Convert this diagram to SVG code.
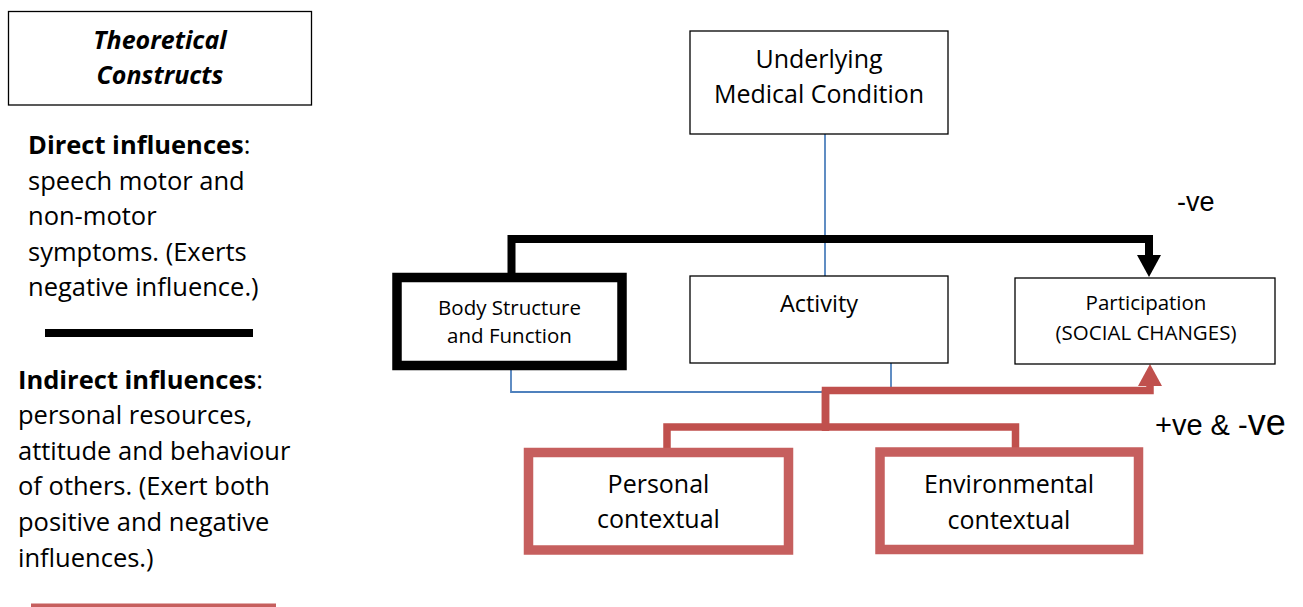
<svg xmlns="http://www.w3.org/2000/svg" width="1303" height="607" viewBox="0 0 1303 607">
<style>
  .t{font-family:"Open Sans","Liberation Sans",sans-serif;fill:#000;}
  .c{text-anchor:middle;}
  .box{fill:#fff;stroke:#000;stroke-width:1.3;}
  .thick{fill:#fff;stroke:#000;stroke-width:9.5;}
  .red{fill:#fff;stroke:#C65F5E;stroke-width:9.5;}
  .blue{fill:none;stroke:#4F81BD;stroke-width:1.8;}
  .blk{fill:none;stroke:#000;stroke-width:8;}
  .rc{fill:none;stroke:#C0504D;stroke-width:7.5;}
  .a{font-family:"Liberation Sans",Arial,sans-serif;fill:#000;}
</style>
<defs>
  <marker id="ab" markerUnits="userSpaceOnUse" viewBox="0 0 22 24" refX="0" refY="12" markerWidth="22" markerHeight="24" orient="auto">
    <path d="M0,0 L22,12 L0,24 z" fill="#000"/>
  </marker>
  <marker id="ar" markerUnits="userSpaceOnUse" viewBox="0 0 22 24" refX="0" refY="12" markerWidth="22" markerHeight="24" orient="auto">
    <path d="M0,0 L22,12 L0,24 z" fill="#C0504D"/>
  </marker>
</defs>
<rect width="1303" height="607" fill="#fff"/>

<g id="legend">
  <rect x="8.5" y="11.5" width="303" height="93.5" class="box"/>
  <text class="t c" x="160" y="49" font-size="25" font-weight="bold" font-style="italic">Theoretical</text>
  <text class="t c" x="160" y="84" font-size="25" font-weight="bold" font-style="italic">Constructs</text>
  <text class="t" font-size="25.5" x="28">
    <tspan x="28" y="154"><tspan font-weight="bold">Direct influences</tspan>:</tspan>
    <tspan x="28" y="190">speech motor and</tspan>
    <tspan x="28" y="225">non-motor</tspan>
    <tspan x="28" y="261">symptoms. (Exerts</tspan>
    <tspan x="28" y="296">negative influence.)</tspan>
  </text>
  <line x1="45" y1="333" x2="253" y2="333" stroke="#000" stroke-width="8"/>
  <text class="t" font-size="25.5" x="18">
    <tspan x="18" y="389"><tspan font-weight="bold">Indirect influences</tspan>:</tspan>
    <tspan x="18" y="424">personal resources,</tspan>
    <tspan x="18" y="460">attitude and behaviour</tspan>
    <tspan x="18" y="495">of others. (Exert both</tspan>
    <tspan x="18" y="531">positive and negative</tspan>
    <tspan x="18" y="567">influences.)</tspan>
  </text>
  <line x1="31" y1="605.5" x2="276" y2="605.5" stroke="#C65F5E" stroke-width="4"/>
</g>

<g id="connectors">
  <path class="blue" d="M825,134 V276"/>
  <path class="blue" d="M511,370 V392 H828"/>
  <path class="blue" d="M891,363 V388"/>
  <path class="blk" d="M511.5,274 V239 H1149 V255" marker-end="url(#ab)"/>
  <path class="rc" d="M825.5,431 V390.5 H1150 V386" marker-end="url(#ar)"/>
  <path class="rc" d="M667,449 V427 H1015.5 V449"/>
  <path class="rc" d="M825.5,390 V427"/>
</g>

<g id="underlying">
  <rect x="690" y="31" width="258" height="103" class="box"/>
  <text class="t c" x="819" y="68" font-size="25">Underlying</text>
  <text class="t c" x="819" y="103" font-size="25">Medical Condition</text>
</g>

<g id="body">
  <rect x="397" y="277.5" width="225" height="88" class="thick"/>
  <text class="t c" x="509.5" y="315" font-size="20.5">Body Structure</text>
  <text class="t c" x="509.5" y="343" font-size="20.5">and Function</text>
</g>

<g id="activity">
  <rect x="690" y="276" width="258" height="87" class="box"/>
  <text class="t c" x="819" y="312" font-size="23.5">Activity</text>
</g>

<g id="participation">
  <rect x="1015" y="278" width="260" height="86" class="box"/>
  <text class="t c" x="1146" y="310" font-size="20.5">Participation</text>
  <text class="t c" x="1146" y="340" font-size="20.5">(SOCIAL CHANGES)</text>
</g>

<g id="personal">
  <rect x="528.5" y="452.5" width="260" height="97.5" class="red"/>
  <text class="t c" x="658.5" y="493" font-size="25">Personal</text>
  <text class="t c" x="658.5" y="528" font-size="25">contextual</text>
</g>

<g id="environmental">
  <rect x="880" y="452" width="258.5" height="97.5" class="red"/>
  <text class="t c" x="1009" y="493" font-size="25">Environmental</text>
  <text class="t c" x="1009" y="529" font-size="25">contextual</text>
</g>

<g id="labels">
  <text class="a" x="1177" y="211" font-size="27">-ve</text>
  <text class="a" x="1155" y="435" font-size="29">+ve &amp; -<tspan font-size="36">ve</tspan></text>
</g>
</svg>
